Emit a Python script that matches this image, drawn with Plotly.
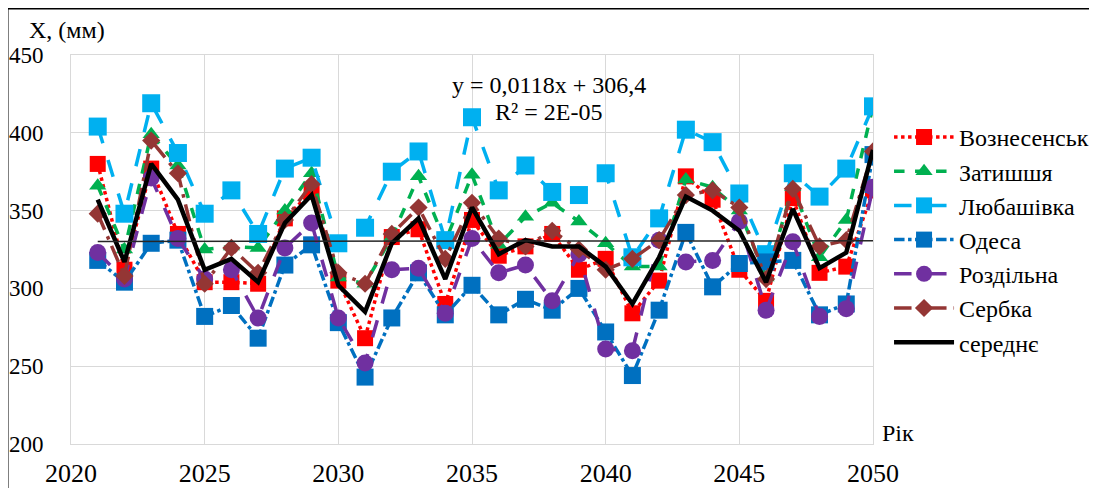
import plotly.graph_objects as go

years = list(range(2021, 2051))

voznesensk = [380, 312, 377, 335, 304, 304, 303, 345, 362, 305, 268, 333, 338, 290, 344,
              321, 327, 335, 312, 319, 284, 305, 372, 357, 312, 292, 358, 310, 314, 363]
zatyshshia = [366, 325, 399, 379, 325, 327, 326, 350, 374, 307, 303, 333, 372, 330, 373,
              328, 346, 355, 343, 329, 314, 314, 370, 365, 350, 307, 365, 320, 344, 417]
liubashivka = [404, 348, 419, 387, 348, 363, 335, 377, 384, 329, 339, 375, 388, 331, 410,
               363, 379, 362, 360, 374, 320, 345, 402, 394, 361, 322, 374, 359, 377, 417]
odesa = [318, 304, 329, 331, 282, 289, 268, 315, 328, 278, 243, 281, 310, 283, 302,
         283, 293, 286, 300, 272, 244, 286, 336, 301, 316, 317, 318, 283, 290, 386]
rozdilna = [323, 306, 371, 332, 306, 312, 281, 326, 342, 281, 252, 312, 313, 284, 332,
            310, 315, 292, 322, 261, 260, 331, 317, 318, 343, 286, 330, 282, 287, 365]
serbka = [348, 308, 395, 374, 303, 326, 310, 344, 367, 310, 303, 335, 352, 319, 355,
          332, 327, 337, 325, 312, 319, 331, 360, 363, 352, 306, 364, 327, 331, 388]
average = [357, 317, 380, 357, 312, 319, 304, 342, 360, 302, 285, 329, 345, 306, 352,
           322, 331, 327, 327, 314, 290, 320, 359, 350, 337, 304, 351, 313, 323, 389]

trend_years = [2021, 2050]
trend_values = [330.2, 330.6]

x_ticks = [2020, 2025, 2030, 2035, 2040, 2045, 2050]
y_ticks = [200, 250, 300, 350, 400, 450]

FONT = "Liberation Serif"

fig = go.Figure()

series = [
    ("Вознесенськ", voznesensk, "#FF0000", "dot", "square", 16),
    ("Затишшя", zatyshshia, "#00B050", "dash", "triangle-up", 15),
    ("Любашівка", liubashivka, "#00B0F0", "longdash", "square", 18),
    ("Одеса", odesa, "#0070C0", "dashdot", "square", 17),
    ("Роздільна", rozdilna, "#7030A0", "longdash", "circle", 17),
    ("Сербка", serbka, "#943634", "longdashdot", "diamond", 14),
]

for name, vals, color, dash, sym, size in series:
    fig.add_trace(go.Scatter(
        x=years, y=vals, name=name, mode="lines+markers",
        line=dict(color=color, width=3.5, dash=dash),
        marker=dict(symbol=sym, size=size, color=color, line=dict(width=0)),
    ))

fig.add_trace(go.Scatter(
    x=years, y=average, name="середнє", mode="lines",
    line=dict(color="#000000", width=4.5),
))

fig.add_trace(go.Scatter(
    x=trend_years, y=trend_values, mode="lines", showlegend=False,
    line=dict(color="#262626", width=1.5), hoverinfo="skip",
))

# page shows the figure offset by 8 px (body margin); margins compensate
fig.update_layout(
    width=1089, height=480,
    margin=dict(l=63, r=224, t=47, b=44, autoexpand=False),
    paper_bgcolor="white", plot_bgcolor="white",
    font=dict(family=FONT, color="#000000", size=24),
    legend=dict(
        x=1.02, y=0.846, xanchor="left", yanchor="top",
        font=dict(family=FONT, size=24, color="#000000"),
        tracegroupgap=0, itemwidth=60,
        bgcolor="rgba(0,0,0,0)",
    ),
    xaxis=dict(
        range=[2020, 2050], tickvals=x_ticks, ticktext=[str(v) for v in x_ticks],
        showgrid=True, gridcolor="#D9D9D9", gridwidth=1,
        showline=True, linecolor="#D9D9D9", linewidth=1, mirror=True,
        zeroline=False, ticks="", ticklabelstandoff=6, automargin=False,
        tickfont=dict(family=FONT, size=26, color="#000000"),
    ),
    yaxis=dict(
        range=[200, 450], tickvals=y_ticks, ticktext=[str(v) for v in y_ticks],
        showgrid=True, gridcolor="#D9D9D9", gridwidth=1,
        showline=True, linecolor="#D9D9D9", linewidth=1, mirror=True,
        zeroline=False, ticks="", ticklabelstandoff=22, automargin=False,
        tickfont=dict(family=FONT, size=23, color="#000000"),
    ),
    shapes=[
        dict(type="line", xref="paper", yref="paper", x0=-0.0798, x1=-0.0798,
             y0=1.1208, y1=-0.2, line=dict(color="black", width=3)),
        dict(type="line", xref="paper", yref="paper", x0=-0.0798, x1=1.3,
             y0=1.1208, y1=1.1208, line=dict(color="black", width=3)),
    ],
    annotations=[
        dict(text="X, (мм)", xref="paper", yref="paper", x=-0.0549, y=1.0643,
             xanchor="left", yanchor="middle", showarrow=False,
             font=dict(family=FONT, size=24, color="#000000")),
        dict(text="Рік", xref="paper", yref="paper", x=1.0087, y=0.0283,
             xanchor="left", yanchor="middle", showarrow=False,
             font=dict(family=FONT, size=24, color="#000000")),
        dict(text="y = 0,0118x + 306,4", xref="paper", yref="paper", x=0.5966, y=0.9229,
             xanchor="center", yanchor="middle", showarrow=False,
             font=dict(family=FONT, size=24, color="#000000")),
        dict(text="R² = 2E-05", xref="paper", yref="paper", x=0.5948, y=0.8535,
             xanchor="center", yanchor="middle", showarrow=False,
             font=dict(family=FONT, size=24, color="#000000")),
    ],
)

fig.write_html("out.html")
